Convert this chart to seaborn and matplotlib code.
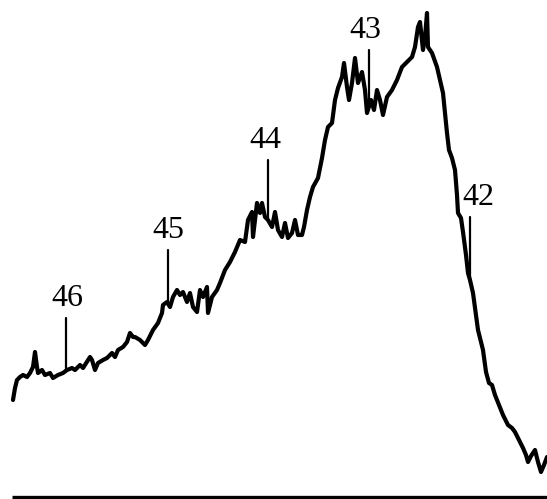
import numpy as np
import pandas as pd
import seaborn as sns
import matplotlib
matplotlib.use("Agg")
import matplotlib.pyplot as plt

# Scan position (channel) and detector response of the trace
channel = [13, 15, 17, 20, 23, 27, 30, 33, 35, 37, 38, 42, 45, 50, 53, 58, 63, 67,
           72, 75, 80, 83, 88, 90, 92, 95, 98, 103, 107, 112, 115, 118, 123, 127,
           130, 133, 135, 140, 145, 148, 153, 158, 162, 163, 167, 170, 173, 177,
           180, 183, 187, 190, 193, 197, 200, 203, 207, 208, 212, 217, 220, 225,
           230, 235, 240, 245, 248, 252, 253, 257, 260, 262, 265, 268, 272, 275,
           278, 282, 285, 288, 292, 295, 298, 302, 304, 307, 310, 313, 318, 322,
           325, 328, 332, 335, 338, 342, 344, 347, 349, 352, 355, 358, 362, 365,
           367, 371, 374, 377, 380, 383, 387, 392, 397, 402, 407, 412, 415, 418,
           420, 423, 425, 427, 428, 432, 437, 440, 443, 447, 449, 452, 455, 457,
           458, 461, 463, 466, 468, 470, 473, 476, 478, 483, 486, 489, 492, 495,
           499, 503, 508, 512, 515, 519, 523, 526, 528, 531, 535, 538, 541, 544,
           547]
response = [99, 111, 119, 122, 124, 122, 126, 132, 147, 132, 126, 129, 124, 126,
            121, 124, 126, 129, 131, 129, 134, 131, 139, 142, 139, 129, 136, 139,
            141, 146, 142, 149, 152, 157, 166, 162, 162, 159, 154, 159, 169, 176,
            186, 194, 197, 192, 202, 209, 204, 207, 197, 206, 192, 187, 209, 202,
            212, 186, 202, 209, 216, 229, 237, 247, 259, 257, 279, 287, 262, 296,
            286, 296, 282, 279, 272, 287, 269, 262, 276, 261, 266, 279, 264, 264,
            272, 289, 302, 312, 321, 341, 359, 372, 376, 399, 411, 422, 436, 412,
            399, 416, 441, 416, 427, 409, 386, 399, 389, 409, 399, 384, 402, 409,
            419, 432, 437, 442, 452, 472, 477, 449, 462, 486, 452, 446, 432, 419,
            406, 366, 349, 341, 329, 304, 286, 281, 267, 244, 226, 219, 206, 184,
            169, 149, 127, 116, 114, 104, 94, 84, 74, 71, 67, 59, 51, 44, 37, 43,
            49, 37, 27, 34, 42]

# Band assignments marked above the trace
band_labels = ["46", "45", "44", "43", "42"]
band_channel = [66, 168, 268, 369, 470]
band_top = [181, 249, 339, 449, 282]

df = pd.DataFrame({"channel": channel, "response": response})

sns.set_style("white")
fig = plt.figure(figsize=(5.47, 4.99), dpi=100)
ax = fig.add_axes([0, 0, 1, 1])

sns.lineplot(data=df, x="channel", y="response", ax=ax, color="black",
             linewidth=3.0, estimator=None, sort=False)

# Baseline
ax.plot([12, 547], [2, 2], color="black", linewidth=2.4, solid_capstyle="butt")

label_dx = [1, 0, -3, -4, 8]
for lab, cx, top, dx in zip(band_labels, band_channel, band_top, label_dx):
    base = np.interp(cx, channel, response)
    ax.plot([cx, cx], [base, top], color="black", linewidth=1.6)
    ax.text(cx + dx, top + 5, lab, ha="center", va="bottom",
            fontsize=23, family="Liberation Serif", color="black")

ax.set_xlim(0, 547)
ax.set_ylim(0, 499)
ax.set_axis_off()
fig.savefig("out.png", dpi=100, facecolor="white")
